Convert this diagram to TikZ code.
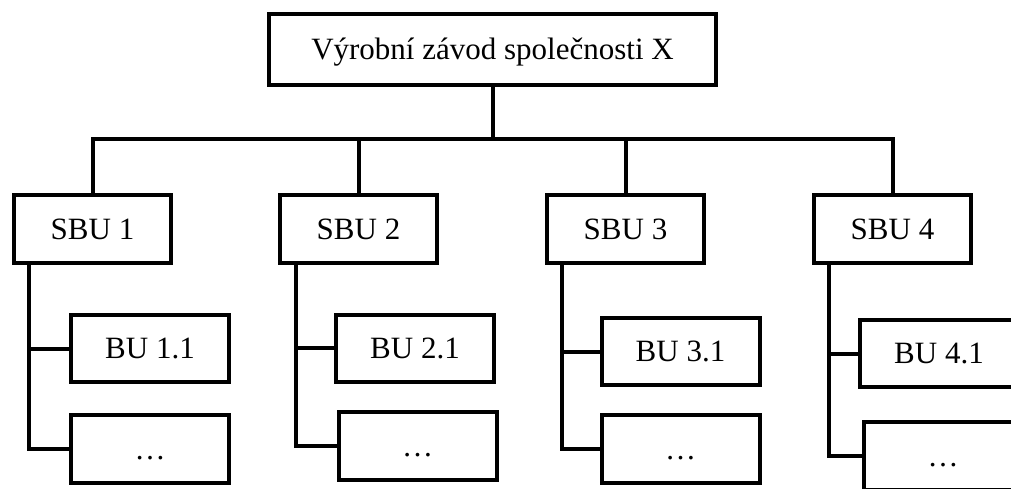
\documentclass[tikz,border=0pt]{standalone}
\usepackage{fontspec}
\setmainfont{Liberation Serif}
\tikzset{
  box/.style={draw,line width=4pt,inner sep=0pt,minimum width=158pt,minimum height=67pt,
    text height=20pt,text depth=0pt,font=\fontsize{31}{36}\selectfont},
  link/.style={line width=4pt}
}
\begin{document}
\begin{tikzpicture}[x=1pt,y=-1pt]
\useasboundingbox (0,0) rectangle (1011,489);
\clip (0,0) rectangle (1011,489);
% plant
\node[box,minimum width=447pt,minimum height=71pt] (plant) at (492.5,49.5) {Výrobní závod společnosti X};
% strategic business units
\node[box,minimum width=157pt,minimum height=68pt] (sbu1) at (92.5,229) {SBU 1};
\node[box,minimum width=157pt,minimum height=68pt] (sbu2) at (358.5,229) {SBU 2};
\node[box,minimum width=157pt,minimum height=68pt] (sbu3) at (625.5,229) {SBU 3};
\node[box,minimum width=157pt,minimum height=68pt] (sbu4) at (892.5,229) {SBU 4};
% business units
\node[box] (bu1) at (150,348.5) {BU 1.1};
\node[box] (bu2) at (415,348) {BU 2.1};
\node[box] (bu3) at (680.5,351.5) {BU 3.1};
\node[box] (bu4) at (939,353.5) {BU 4.1};
\node[box,minimum height=68pt] (more1) at (150,449) {…};
\node[box,minimum height=68pt] (more2) at (417.5,446) {…};
\node[box,minimum height=68pt] (more3) at (680.5,449) {…};
\node[box,minimum height=68pt] (more4) at (943,456) {…};
% tree
\coordinate (bar) at (492.5,139);
\draw[link] (plant.south) -- (bar);
\draw[link] (sbu1.north) |- (bar) -| (sbu4.north);
\draw[link] (sbu2.north) -- (sbu2.north |- bar);
\draw[link] (sbu3.north) -- (sbu3.north |- bar);
\coordinate (sp1) at ([xshift=-64pt]sbu1.south);
\coordinate (sp2) at ([xshift=-63pt]sbu2.south);
\coordinate (sp3) at ([xshift=-63.5pt]sbu3.south);
\coordinate (sp4) at ([xshift=-63.5pt]sbu4.south);
\draw[link] (sp1) |- (more1.west);
\draw[link] (sp2) |- (more2.west);
\draw[link] (sp3) |- (more3.west);
\draw[link] (sp4) |- (more4.west);
\draw[link] (bu1.west) -- (bu1.west -| sp1);
\draw[link] (bu2.west) -- (bu2.west -| sp2);
\draw[link] (bu3.west) -- (bu3.west -| sp3);
\draw[link] (bu4.west) -- (bu4.west -| sp4);
\end{tikzpicture}
\end{document}
